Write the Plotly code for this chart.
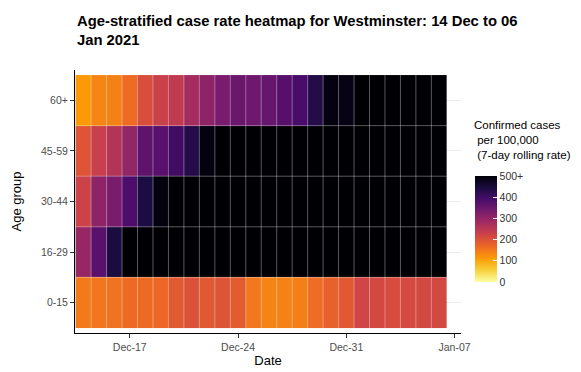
import pandas as pd
import plotly.graph_objects as go

dates = pd.date_range("2020-12-14", "2021-01-06", freq="D")
age_groups = ["0-15", "16-29", "30-44", "45-59", "60+"]

# 7-day rolling case rate per 100,000 (values above 500 shown as "500+")
rate_0_15 = [148, 152, 156, 166, 166, 169, 188, 201, 191, 197, 187, 150,
             137, 139, 141, 163, 177, 191, 220, 216, 210, 213, 216, 216]
rate_16_29 = [296, 370, 446] + [600] * 21
rate_30_44 = [228, 307, 332, 385, 444, 490] + [600] * 18
rate_45_59 = [196, 232, 260, 300, 365, 372, 400, 435, 490] + [600] * 15
rate_60 = [112, 135, 140, 164, 207, 230, 242, 278, 307, 332, 350, 345,
           355, 375, 389, 435, 490, 485] + [600] * 6

cbar_ticks = [0, 100, 200, 300, 400, 500]
cbar_text = ["0", "100", "200", "300", "400", "500+"]
x_ticks = ["2020-12-17", "2020-12-24", "2020-12-31", "2021-01-07"]

z = [rate_0_15, rate_16_29, rate_30_44, rate_45_59, rate_60]

FONT = "Liberation Sans, Arial, sans-serif"

# page offset from default body margin
OFF = 8
W, H = 581 - OFF, 372 - OFF
# plot area in page pixels: x 75..461, y 70..332.6
L, T = 75 - OFF, 70 - OFF
R = W - (461 - OFF)
B = H - (333 - OFF)
PW, PH = W - L - R, H - T - B


def px_x(p):
    return (p - OFF - L) / PW


def px_y(p):
    return (H - B - (p - OFF)) / PH


fig = go.Figure(go.Heatmap(
    x=dates, y=age_groups, z=z,
    zmin=0, zmax=500,
    colorscale="Inferno", reversescale=True,
    colorbar=dict(
        x=px_x(475), xanchor="left", xref="paper",
        y=px_y(282), yanchor="bottom", len=106 / PH, lenmode="fraction",
        thickness=22, outlinewidth=0, xpad=0, ypad=0,
        tickvals=cbar_ticks, ticktext=cbar_text,
        ticks="inside", ticklen=4, tickcolor="white",
        tickfont=dict(family=FONT, size=10.5, color="#333333"),
    ),
    hovertemplate="%{x|%d %b}<br>%{y}: %{z}<extra></extra>",
))

# tile borders derived from the data grid
half = pd.Timedelta(hours=12)
for d in list(dates[1:]):
    fig.add_shape(type="line", xref="x", yref="y",
                  x0=d - half, x1=d - half, y0=-0.5, y1=len(age_groups) - 0.5,
                  line=dict(color="rgba(255,255,255,0.35)", width=1))
for k in range(1, len(age_groups)):
    fig.add_shape(type="line", xref="x", yref="y",
                  x0=dates[0] - half, x1=dates[-1] + half, y0=k - 0.5, y1=k - 0.5,
                  line=dict(color="rgba(255,255,255,0.35)", width=1))

title_font = dict(family=FONT, size=14.8, color="#000000")
fig.update_layout(
    width=W, height=H,
    margin=dict(l=L, r=R, t=T, b=B, autoexpand=False),
    paper_bgcolor="white", plot_bgcolor="white",
    font=dict(family=FONT, color="#000000"),
    annotations=[
        dict(text="<b>Age-stratified case rate heatmap for Westminster: 14 Dec to 06<br>Jan 2021</b>",
             xref="paper", yref="paper", x=px_x(75), y=px_y(30),
             xanchor="left", yanchor="middle", align="left", showarrow=False,
             font=title_font),
        dict(text="Confirmed cases<br> per 100,000<br> (7-day rolling rate)",
             xref="paper", yref="paper", x=px_x(472), y=px_y(117),
             xanchor="left", yanchor="top", align="left", showarrow=False,
             font=dict(family=FONT, size=11.5, color="#000000")),
    ],
)

fig.update_xaxes(
    range=["2020-12-13 11:00", "2021-01-07 10:00"],
    tickvals=x_ticks, tickformat="%b-%d", automargin=False,
    showline=True, linecolor="black", linewidth=1,
    ticks="outside", ticklen=4, tickcolor="#333333",
    showgrid=False, zeroline=False,
    tickfont=dict(family=FONT, size=10.5, color="#4d4d4d"),
    title=dict(text="Date", font=dict(family=FONT, size=13, color="#000000"), standoff=2),
)
fig.update_yaxes(
    range=[-0.6, 4.6], automargin=False,
    showline=True, linecolor="black", linewidth=1,
    ticks="outside", ticklen=4, tickcolor="#333333",
    showgrid=True, gridcolor="#ebebeb", gridwidth=1, zeroline=False,
    tickfont=dict(family=FONT, size=10.5, color="#4d4d4d"),
    title=dict(text="Age group", font=dict(family=FONT, size=13, color="#000000"), standoff=16),
)

fig.write_html("out.html")
